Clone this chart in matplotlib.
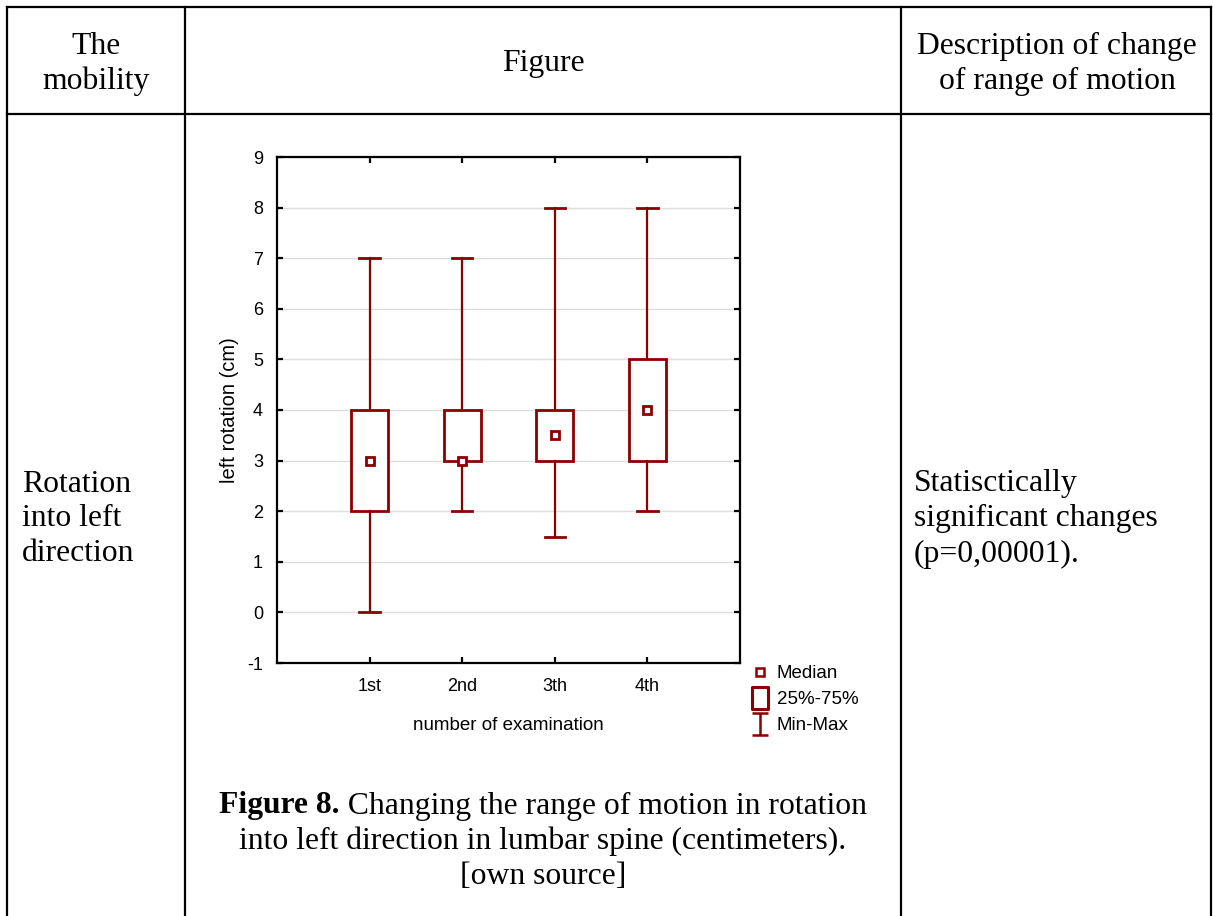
import matplotlib
matplotlib.use("Agg")
import matplotlib.pyplot as plt
from matplotlib.lines import Line2D
from matplotlib.path import Path

# chart data
categories = ["1st", "2nd", "3th", "4th"]
mins = [0, 2, 1.5, 2]
q1s = [2, 3, 3, 3]
medians = [3, 3, 3.5, 4]
q3s = [4, 4, 4, 5]
maxs = [7, 7, 8, 8]
yticks = [-1, 0, 1, 2, 3, 4, 5, 6, 7, 8, 9]

header_texts = ["The\nmobility", "Figure", "Description of change\nof range of motion"]
row_label = "Rotation\ninto left\ndirection"
row_desc = "Statisctically\nsignificant changes\n(p=0,00001)."
caption_bold = "Figure 8."
caption_rest = " Changing the range of motion in rotation"
caption_lines = ["into left direction in lumbar spine (centimeters).", "[own source]"]

W, H = 1213, 916
RED = "#8b0000"
SERIF = "Liberation Serif"
SANS = "Liberation Sans"
TFS = 22.8  # table font size

plt.rcParams["axes.unicode_minus"] = False
fig = plt.figure(figsize=(W / 100, H / 100), dpi=100)


def fx(x):
    return x / W


def fy(y):
    return 1 - y / H


# table frame
def hline(y, x0, x1):
    fig.add_artist(Line2D([fx(x0), fx(x1)], [fy(y), fy(y)], color="black", lw=1.6))


def vline(x, y0, y1):
    fig.add_artist(Line2D([fx(x), fx(x)], [fy(y0), fy(y1)], color="black", lw=1.6))


hline(7, 7, 1211)
hline(114, 7, 1211)
for x in [7, 185, 901, 1211]:
    vline(x, 7, 916)

# header texts
fig.text(fx(96), fy(64), header_texts[0], ha="center", va="center",
         family=SERIF, fontsize=TFS, linespacing=1.24)
fig.text(fx(543), fy(63), header_texts[1], ha="center", va="center",
         family=SERIF, fontsize=TFS)
fig.text(fx(1057), fy(64), header_texts[2], ha="center", va="center",
         family=SERIF, fontsize=TFS, linespacing=1.24)

# row texts
fig.text(fx(22), fy(519), row_label, ha="left", va="center",
         family=SERIF, fontsize=TFS, linespacing=1.27)
fig.text(fx(914), fy(519), row_desc, ha="left", va="center",
         family=SERIF, fontsize=TFS, linespacing=1.27)

# caption, first line bold + regular
fig.canvas.draw()
renderer = fig.canvas.get_renderer()
t1 = fig.text(0, fy(806), caption_bold, ha="left", va="center",
              family=SERIF, fontsize=TFS, fontweight="bold")
t2 = fig.text(0, fy(806), caption_rest, ha="left", va="center",
              family=SERIF, fontsize=TFS)
w1 = t1.get_window_extent(renderer).width
w2 = t2.get_window_extent(renderer).width
start = 543 - (w1 + w2) / 2
t1.set_x(fx(start))
t2.set_x(fx(start + w1))
fig.text(fx(543), fy(841), caption_lines[0], ha="center", va="center",
         family=SERIF, fontsize=TFS)
fig.text(fx(543), fy(877), caption_lines[1], ha="center", va="center",
         family=SERIF, fontsize=TFS)

# the box plot
ax = fig.add_axes([fx(277), fy(663), fx(740) - fx(277), (663 - 157) / H])
positions = list(range(1, len(categories) + 1))
stats = []
for i in range(len(categories)):
    stats.append({"whislo": mins[i], "q1": q1s[i], "med": medians[i],
                  "q3": q3s[i], "whishi": maxs[i], "fliers": []})

ax.bxp(stats, positions=positions, widths=0.4, capwidths=0.22, patch_artist=True,
       boxprops=dict(facecolor="white", edgecolor=RED, linewidth=2.0),
       whiskerprops=dict(color=RED, linewidth=1.6),
       capprops=dict(color=RED, linewidth=2.0),
       medianprops=dict(visible=False), showfliers=False, zorder=3)
ax.plot(positions, medians, ls="none", marker="s", ms=6, mfc="white",
        mec=RED, mew=2.0, zorder=4)

ax.set_xlim(0, 5)
ax.set_ylim(-1, 9)
ax.set_yticks(yticks)
ax.set_xticks(positions)
ax.set_xticklabels(categories)
ax.yaxis.grid(True, color="#dddddd", lw=1)
ax.set_axisbelow(True)
for s in ax.spines.values():
    s.set_linewidth(1.6)
ax.tick_params(direction="in", top=True, right=True, length=4, width=1.6,
               labelsize=13)
ax.tick_params(axis="x", pad=11)
ax.tick_params(axis="y", pad=10)
for lab in ax.get_xticklabels() + ax.get_yticklabels():
    lab.set_family(SANS)

ax.set_xlabel("number of examination", family=SANS, fontsize=13.5)
ax.set_ylabel("left rotation (cm)", family=SANS, fontsize=14.5)
ax.xaxis.set_label_coords(0.5, -0.106)
ax.yaxis.set_label_coords(-0.083, 0.5)

# legend
box_marker = Path([(-0.36, -0.5), (0.36, -0.5), (0.36, 0.5), (-0.36, 0.5), (-0.36, -0.5)],
                  [Path.MOVETO, Path.LINETO, Path.LINETO, Path.LINETO, Path.CLOSEPOLY])
range_marker = Path([(-0.36, 0.5), (0.36, 0.5), (0, 0.5), (0, -0.5), (-0.36, -0.5), (0.36, -0.5)],
                    [Path.MOVETO, Path.LINETO, Path.MOVETO, Path.LINETO, Path.MOVETO, Path.LINETO])
handles = [
    Line2D([], [], ls="none", marker="s", ms=6, mfc="white", mec=RED, mew=1.8),
    Line2D([], [], ls="none", marker=box_marker, ms=15.5, mfc="white", mec=RED, mew=2.2),
    Line2D([], [], ls="none", marker=range_marker, ms=15.5, mfc="none", mec=RED, mew=1.8),
]
leg = ax.legend(handles, ["Median", "25%-75%", "Min-Max"], loc="upper left",
                bbox_to_anchor=(1.023, -0.004), frameon=False, handlelength=1.0,
                handletextpad=0.4, labelspacing=0.48, borderaxespad=0, borderpad=0,
                prop=dict(family=SANS, size=13.5))

fig.savefig("out.png", dpi=100)
